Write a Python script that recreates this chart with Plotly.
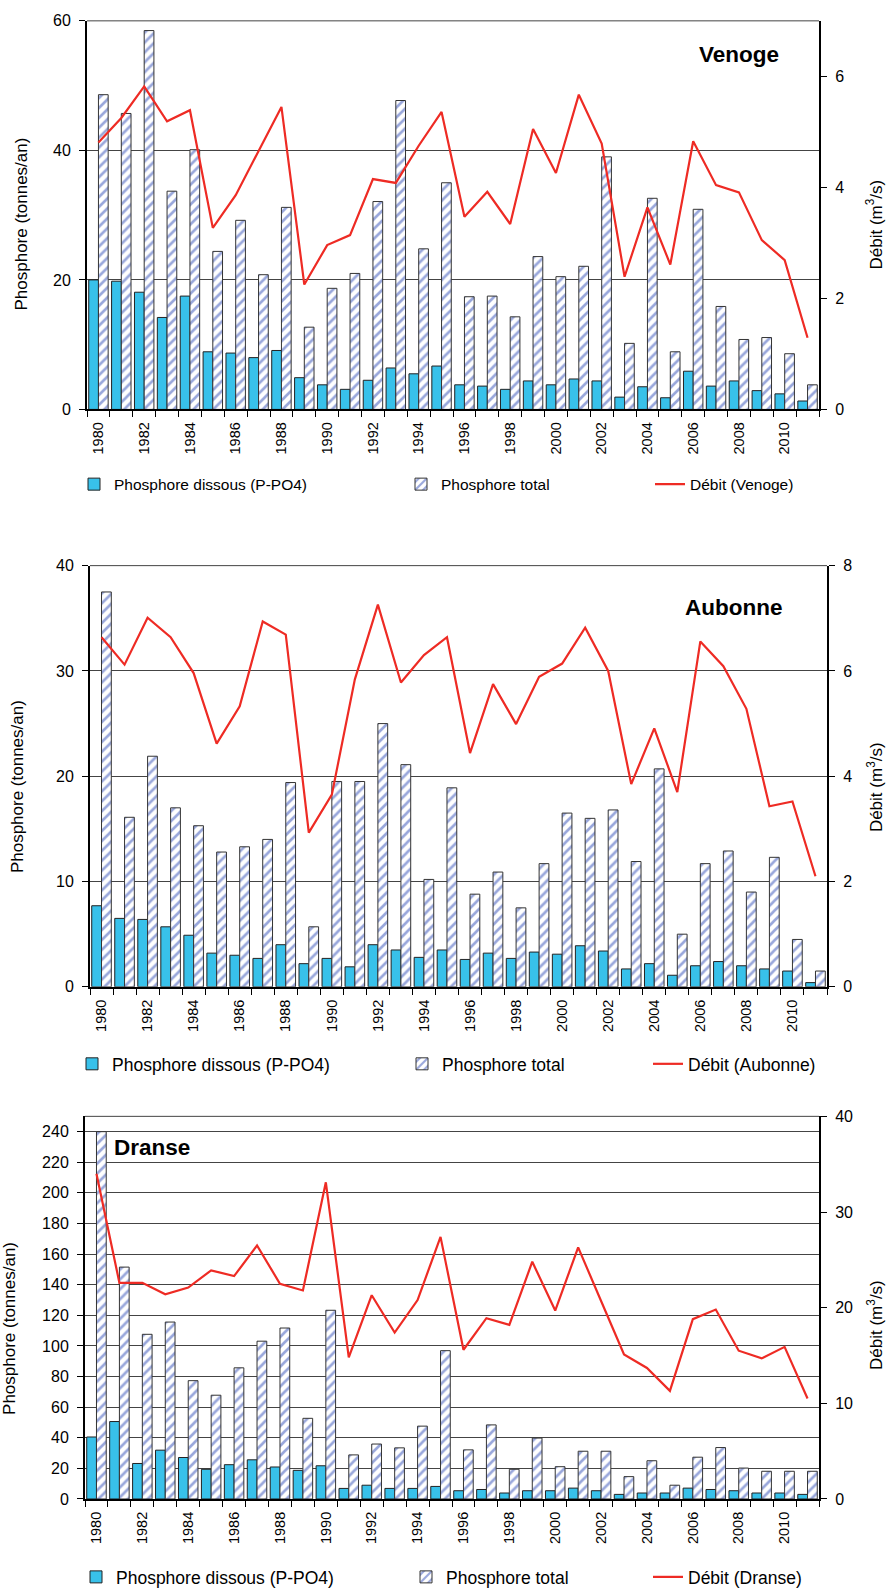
import plotly.graph_objects as go

# Yearly phosphorus loads (tonnes/an) and mean discharge (m3/s), 1980-2011
years = list(range(1980, 2012))

venoge_dissous = [20.0, 19.8, 18.1, 14.2, 17.5, 8.9, 8.7, 8.0, 9.1, 4.9, 3.8, 3.1, 4.5, 6.4, 5.5, 6.7,
                  3.8, 3.6, 3.1, 4.4, 3.8, 4.7, 4.4, 1.9, 3.5, 1.8, 5.9, 3.6, 4.4, 2.9, 2.4, 1.3]
venoge_total = [48.6, 45.7, 58.5, 33.7, 40.1, 24.4, 29.2, 20.8, 31.2, 12.7, 18.7, 21.0, 32.1, 47.7, 24.8, 35.0,
                17.4, 17.5, 14.3, 23.6, 20.5, 22.1, 39.0, 10.2, 32.6, 8.9, 30.9, 15.9, 10.8, 11.1, 8.6, 3.8]
venoge_debit = [4.81, 5.25, 5.82, 5.19, 5.39, 3.27, 3.86, 4.65, 5.45, 2.25, 2.96, 3.14, 4.15, 4.08, 4.75, 5.36,
                3.47, 3.92, 3.34, 5.05, 4.26, 5.67, 4.79, 2.39, 3.64, 2.61, 4.83, 4.04, 3.91, 3.05, 2.69, 1.29]

aubonne_dissous = [7.7, 6.5, 6.4, 5.7, 4.9, 3.2, 3.0, 2.7, 4.0, 2.2, 2.7, 1.9, 4.0, 3.5, 2.8, 3.5,
                   2.6, 3.2, 2.7, 3.3, 3.1, 3.9, 3.4, 1.7, 2.2, 1.1, 2.0, 2.4, 2.0, 1.7, 1.5, 0.4]
aubonne_total = [37.5, 16.1, 21.9, 17.0, 15.3, 12.8, 13.3, 14.0, 19.4, 5.7, 19.5, 19.5, 25.0, 21.1, 10.2, 18.9,
                 8.8, 10.9, 7.5, 11.7, 16.5, 16.0, 16.8, 11.9, 20.7, 5.0, 11.7, 12.9, 9.0, 12.3, 4.5, 1.5]
aubonne_debit = [6.64, 6.12, 7.01, 6.64, 5.96, 4.62, 5.33, 6.94, 6.69, 2.93, 3.65, 5.84, 7.26, 5.78, 6.30, 6.64,
                 4.44, 5.75, 4.99, 5.89, 6.14, 6.82, 6.00, 3.85, 4.91, 3.70, 6.56, 6.09, 5.28, 3.43, 3.52, 2.10]

dranse_dissous = [40.5, 50.6, 23.2, 31.9, 27.1, 19.4, 22.4, 25.6, 20.9, 18.7, 21.7, 6.9, 9.0, 6.9, 6.9, 8.2,
                  5.4, 6.2, 3.9, 5.4, 5.4, 7.1, 5.4, 3.0, 3.9, 3.9, 7.1, 6.2, 5.4, 3.9, 3.9, 3.0]
dranse_total = [240.0, 151.5, 107.6, 115.6, 77.3, 67.8, 85.7, 103.1, 111.7, 52.7, 123.3, 28.8, 35.9, 33.4, 47.6, 96.9,
                32.1, 48.4, 19.4, 39.8, 21.1, 31.2, 31.2, 14.6, 25.0, 9.0, 27.3, 33.6, 20.2, 18.1, 18.1, 18.1]
dranse_debit = [34.0, 22.6, 22.6, 21.4, 22.1, 23.9, 23.3, 26.5, 22.5, 21.8, 33.1, 14.8, 21.3, 17.4, 20.8, 27.4,
                15.6, 18.9, 18.2, 24.8, 19.7, 26.3, 20.7, 15.1, 13.7, 11.3, 18.8, 19.8, 15.5, 14.7, 15.9, 10.5]

label_dissous = "Phosphore dissous (P-PO4)"
label_total = "Phosphore total"
year_labels = [str(y) for y in years[::2]]

W, H = 887, 1595
FONT = "Liberation Sans, Arial, sans-serif"
CYAN = "#38c1ea"
HATCH = "#3450b8"
RED = "#ee2b24"
GRID = "#444444"


def fx(p):
    return p / W


def fy(p):
    return 1 - p / H


panels = [
    dict(river="Venoge", dis=venoge_dissous, tot=venoge_total, deb=venoge_debit,
         xpx=(87, 819), ypx=(13, 406), lrange=[0, 60], lticks=[0, 20, 40, 60],
         rrange=[0, 7], rticks=[0, 2, 4, 6], leg_size=15.5,
         leg_y=482, leg_x=(74, 401, 650), title_xy=(739, 47),
         ltitle_xy=(22, 219), rtitle_xy=(874, 219)),
    dict(river="Aubonne", dis=aubonne_dissous, tot=aubonne_total, deb=aubonne_debit,
         xpx=(90, 827), ypx=(564, 990), lrange=[0, 40], lticks=[0, 10, 20, 30, 40],
         rrange=[0, 8], rticks=[0, 2, 4, 6, 8], leg_size=17.5,
         leg_y=1068, leg_x=(72, 402, 648), title_xy=(733, 606),
         ltitle_xy=(17, 788), rtitle_xy=(875, 788)),
    dict(river="Dranse", dis=dranse_dissous, tot=dranse_total, deb=dranse_debit,
         xpx=(85, 819), ypx=(1121, 1508), lrange=[0, 250], lticks=list(range(0, 241, 20)),
         rrange=[0, 40], rticks=[0, 10, 20, 30, 40], leg_size=17.5,
         leg_y=1587, leg_x=(76, 406, 648), title_xy=(152, 1153),
         ltitle_xy=(10, 1336), rtitle_xy=(875, 1332)),
]

fig = go.Figure()
layout = dict(
    width=W, height=H,
    margin=dict(l=0, r=0, t=0, b=0),
    paper_bgcolor="white", plot_bgcolor="white",
    barmode="group", bargap=0.15, bargroupgap=0.0,
    font=dict(family=FONT, color="black"),
    showlegend=True,
    annotations=[], shapes=[],
)

boundaries = [y - 0.5 for y in years] + [years[-1] + 0.5]
tick_font = dict(family=FONT, size=16, color="black")

for i, p in enumerate(panels):
    xid = "x" if i == 0 else f"x{i + 1}"
    yl = f"y{2 * i + 1}" if i > 0 else "y"
    yr = f"y{2 * i + 2}"
    xkey = "xaxis" if i == 0 else f"xaxis{i + 1}"
    ylkey = "yaxis" if i == 0 else f"yaxis{2 * i + 1}"
    yrkey = f"yaxis{2 * i + 2}"
    legs = [f"legend{3 * i + k + 2}" for k in range(3)]

    fig.add_trace(go.Bar(
        x=years, y=p["dis"], name=label_dissous, xaxis=xid, yaxis=yl,
        offsetgroup="dis", legend=legs[0], showlegend=True,
        marker=dict(color=CYAN, line=dict(color="#222222", width=1)),
    ))
    fig.add_trace(go.Bar(
        x=years, y=p["tot"], name=label_total, xaxis=xid, yaxis=yl,
        offsetgroup="tot", legend=legs[1], showlegend=True,
        marker=dict(color="white", line=dict(color="#333333", width=1),
                    pattern=dict(shape="/", fgcolor=HATCH, bgcolor="white",
                                 size=7, solidity=0.38)),
    ))
    fig.add_trace(go.Scatter(
        x=years, y=p["deb"], name=f"Débit ({p['river']})", mode="lines",
        xaxis=xid, yaxis=yr, legend=legs[2], showlegend=True,
        line=dict(color=RED, width=2.2),
    ))

    x0, x1 = p["xpx"]
    ytop, ybot = p["ypx"]

    layout[xkey] = dict(
        domain=[fx(x0), fx(x1)], anchor=yl, type="linear",
        range=[years[0] - 0.5, years[-1] + 0.5],
        tickmode="array", tickvals=years[::2], ticktext=year_labels,
        tickangle=-90, ticks="outside", ticklen=5, tickcolor="rgba(0,0,0,0)",
        tickfont=dict(family=FONT, size=14.5, color="black"),
        minor=dict(tickmode="array", tickvals=boundaries, ticks="outside",
                   ticklen=6, tickcolor="black", tickwidth=1, showgrid=False),
        showline=True, linecolor="black", linewidth=2,
        showgrid=False, zeroline=False, fixedrange=True,
    )
    layout[ylkey] = dict(
        domain=[fy(ybot), fy(ytop)], anchor=xid, range=p["lrange"],
        tickmode="array", tickvals=p["lticks"],
        ticks="outside", ticklen=6, tickcolor="black", tickfont=tick_font,
        ticklabelstandoff=5,
        showline=True, linecolor="black", linewidth=2,
        showgrid=True, gridcolor=GRID, gridwidth=1, zeroline=False,
    )
    layout[yrkey] = dict(
        overlaying=yl, anchor=xid, side="right", range=p["rrange"],
        tickmode="array", tickvals=p["rticks"],
        ticks="outside", ticklen=6, tickcolor="black", tickfont=tick_font,
        ticklabelstandoff=5,
        showline=True, linecolor="black", linewidth=2,
        showgrid=False, zeroline=False,
    )

    # upper frame line of the plot area
    layout["shapes"].append(dict(
        type="line", xref=f"{xid} domain", yref=f"{yl} domain",
        x0=0, x1=1, y0=1, y1=1, line=dict(color=GRID, width=1),
    ))

    for k, lx in enumerate(p["leg_x"]):
        layout[legs[k]] = dict(
            x=fx(lx), y=fy(p["leg_y"]), xanchor="left", yanchor="middle",
            orientation="h", bgcolor="rgba(0,0,0,0)", borderwidth=0,
            font=dict(family=FONT, size=p["leg_size"], color="black"),
        )

    tx, ty = p["title_xy"]
    layout["annotations"].append(dict(
        text=f"<b>{p['river']}</b>", x=fx(tx), y=fy(ty), xref="paper", yref="paper",
        showarrow=False, xanchor="center", yanchor="middle",
        font=dict(family=FONT, size=22.5, color="black"),
    ))
    lx_, ly_ = p["ltitle_xy"]
    layout["annotations"].append(dict(
        text="Phosphore (tonnes/an)", x=fx(lx_), y=fy(ly_), xref="paper", yref="paper",
        showarrow=False, textangle=-90, xanchor="center", yanchor="middle",
        font=dict(family=FONT, size=17, color="black"),
    ))
    rx_, ry_ = p["rtitle_xy"]
    layout["annotations"].append(dict(
        text="Débit (m<sup>3</sup>/s)", x=fx(rx_), y=fy(ry_), xref="paper", yref="paper",
        showarrow=False, textangle=-90, xanchor="center", yanchor="middle",
        font=dict(family=FONT, size=17, color="black"),
    ))

fig.update_layout(**layout)
fig.write_html("out.html")
